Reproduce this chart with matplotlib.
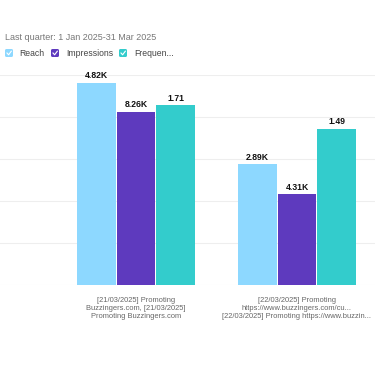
import matplotlib.pyplot as plt
from matplotlib.patches import FancyBboxPatch
from matplotlib.lines import Line2D

plt.rcParams['font.family'] = ['Liberation Sans', 'DejaVu Sans']

categories = [
    "[21/03/2025] Promoting\nBuzzingers.com, [21/03/2025]\nPromoting Buzzingers.com",
    "[22/03/2025] Promoting\nhttps://www.buzzingers.com/cu...\n[22/03/2025] Promoting https://www.buzzin...",
]
reach = [4820, 2890]
impressions = [8260, 4310]
frequency = [1.71, 1.49]
reach_labels = ["4.82K", "2.89K"]
impr_labels = ["8.26K", "4.31K"]
freq_labels = ["1.71", "1.49"]
series_names = ["Reach", "Impressions", "Frequen..."]
colors = ["#8dd8ff", "#5e3abe", "#33cccc"]

W, H = 375, 366
fig = plt.figure(figsize=(W / 100, H / 100), dpi=100)
ax = fig.add_axes([0, (H - 285) / H, 1, (285 - 75) / H])
ax2 = ax.twinx()
ax3 = ax.twinx()

x = list(range(len(categories)))
bw = 0.242
off = 0.248
b1 = ax.bar([i - off for i in x], reach, bw, color=colors[0], zorder=3)
b2 = ax2.bar(x, impressions, bw, color=colors[1], zorder=3)
b3 = ax3.bar([i + off for i in x], frequency, bw, color=colors[2], zorder=3)

ax.set_ylim(0, 5000)
ax2.set_ylim(0, 10000)
ax3.set_ylim(0, 2.0)
ax.set_xlim(-136 / 161, 239 / 161)

for a, b, labs in [(ax, b1, reach_labels), (ax2, b2, impr_labels), (ax3, b3, freq_labels)]:
    a.bar_label(b, labels=labs, padding=1.5, fontsize=6.2, fontweight='bold', color='#111111')
    a.set_yticks([])
    for s in a.spines.values():
        s.set_visible(False)

ax.set_yticks([0, 1000, 2000, 3000, 4000, 5000])
ax.tick_params(axis='y', length=0, labelleft=False)
ax.grid(axis='y', color='#eeeeee', linewidth=0.8, zorder=0)
ax.set_xticks(x)
ax.set_xticklabels(categories, fontsize=5.4, color='#666666', linespacing=1.2)
ax.tick_params(axis='x', length=0, pad=9)

fig.text(5 / W, 1 - 38 / H, "Last quarter: 1 Jan 2025-31 Mar 2025", fontsize=6.5,
         color='#777777', va='center', ha='left')

# legend with checkbox squares
box_x = [5, 51, 119]
text_x = [19, 66, 134]
yc = 53
for bx, tx, name, c in zip(box_x, text_x, series_names, colors):
    fig.add_artist(FancyBboxPatch(((bx) / W, 1 - (yc + 4) / H), 8 / W, 8 / H,
                                  boxstyle="round,pad=0,rounding_size=0.004",
                                  transform=fig.transFigure, facecolor=c, edgecolor='none'))
    fig.add_artist(Line2D([(bx + 2) / W, (bx + 3.6) / W, (bx + 6.3) / W],
                          [1 - (yc) / H, 1 - (yc + 1.8) / H, 1 - (yc - 1.8) / H],
                          transform=fig.transFigure, color='white', linewidth=0.8))
    fig.text(tx / W, 1 - yc / H, name, fontsize=6.2, color='#444444', va='center', ha='left')

fig.savefig("out.png", dpi=100, facecolor='white')
